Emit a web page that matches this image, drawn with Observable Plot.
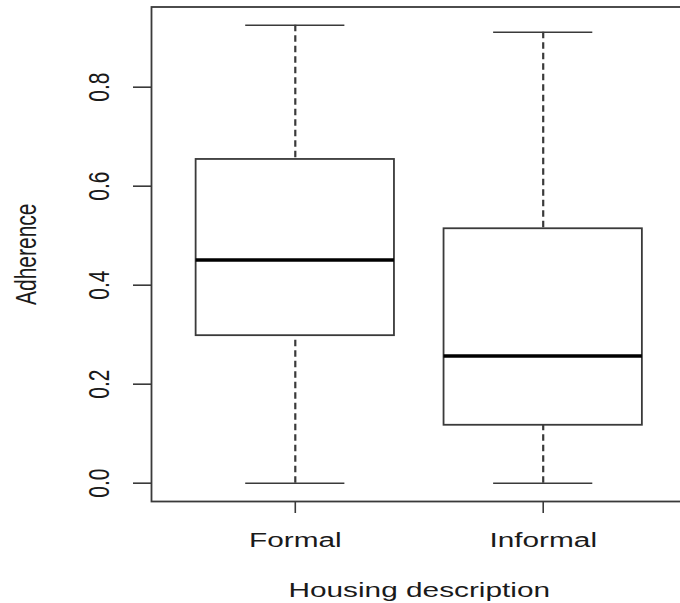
<!DOCTYPE html>
<html>
<head>
<meta charset="utf-8">
<script src="https://cdn.jsdelivr.net/npm/d3@7"></script>
<script src="https://cdn.jsdelivr.net/npm/@observablehq/plot@0.6"></script>
<style>
  html, body { margin: 0; padding: 0; background: #fff; overflow: hidden; }
  #chart svg { display: block; overflow: hidden; }
</style>
</head>
<body>
<div id="chart"></div>
<script>
// Adherence by housing description: five-number summaries per group
const categories = ["Formal", "Informal"];
const lowerWhisker = [0.0, 0.0];
const lowerQuartile = [0.298, 0.117];
const medians = [0.451, 0.257];
const upperQuartile = [0.654, 0.514];
const upperWhisker = [0.925, 0.911];
const yTicks = [0, 0.2, 0.4, 0.6, 0.8];
const xTitle = "Housing description";
const yTitle = "Adherence";

const boxes = categories.map((name, i) => ({
  name,
  pos: i + 1,
  lo: lowerWhisker[i],
  q1: lowerQuartile[i],
  med: medians[i],
  q3: upperQuartile[i],
  hi: upperWhisker[i]
}));

// Axis limits padded by 4% on each side, like base R graphics
const yMin = d3.min(lowerWhisker), yMax = d3.max(upperWhisker);
const yPad = 0.04 * (yMax - yMin);
const xLo = 0.5, xHi = categories.length + 0.5, xPad = 0.04 * (xHi - xLo);
const boxHalf = 0.4;   // boxwex 0.8
const capHalf = 0.2;   // staple half the box width

const ink = "#3a3a3a";
const textInk = "#1a1a1a";
const font = "'Liberation Sans', Arial, Helvetica, sans-serif";
const fs = 21;

const chart = Plot.plot({
  width: 680,
  height: 603,
  marginLeft: 151,
  marginRight: -6.5,
  marginTop: 6.5,
  marginBottom: 102,
  style: {fontFamily: font, fontSize: fs + "px", color: textInk, background: "#fff", overflow: "hidden"},
  x: {domain: [xLo - xPad, xHi + xPad]},
  y: {domain: [yMin - yPad, yMax + yPad]},
  marks: [
    Plot.frame({stroke: ink, strokeWidth: 1.8}),
    // dashed whiskers, drawn from the whisker end toward the box
    Plot.ruleX(boxes, {x: "pos", y1: "hi", y2: "q3", stroke: ink, strokeWidth: 2.2, strokeDasharray: "6.5,4"}),
    Plot.ruleX(boxes, {x: "pos", y1: "lo", y2: "q1", stroke: ink, strokeWidth: 2.2, strokeDasharray: "6.5,4"}),
    // staples
    Plot.ruleY(boxes, {y: "hi", x1: d => d.pos - capHalf, x2: d => d.pos + capHalf, stroke: ink, strokeWidth: 1.6}),
    Plot.ruleY(boxes, {y: "lo", x1: d => d.pos - capHalf, x2: d => d.pos + capHalf, stroke: ink, strokeWidth: 1.6}),
    // interquartile boxes
    Plot.rect(boxes, {
      x1: d => d.pos - boxHalf, x2: d => d.pos + boxHalf,
      y1: "q1", y2: "q3",
      fill: "white", stroke: ink, strokeWidth: 1.8
    }),
    // medians
    Plot.ruleY(boxes, {y: "med", x1: d => d.pos - boxHalf, x2: d => d.pos + boxHalf, stroke: "#000", strokeWidth: 3.6}),
    // axes
    Plot.axisY(yTicks, {
      anchor: "left",
      tickSize: 18,
      tickPadding: 24.7,
      tickRotate: -90,
      textAnchor: "middle",
      lineAnchor: "bottom",
      tickFormat: d => d.toFixed(1),
      fontSize: fs,
      stroke: ink,
      strokeWidth: 1.6,
      fill: textInk,
      label: null
    }),
    Plot.axisX([1, 2], {
      anchor: "bottom",
      tickSize: 12,
      tickPadding: 18.8,
      tickFormat: d => categories[d - 1],
      fontSize: fs,
      stroke: ink,
      strokeWidth: 1.6,
      fill: textInk,
      label: null
    }),
    // axis titles
    Plot.text([yTitle], {frameAnchor: "left", dx: -116, rotate: -90, textAnchor: "middle", lineAnchor: "bottom", fontSize: fs, fill: textInk}),
    Plot.text([xTitle], {frameAnchor: "bottom", dy: 95.7, textAnchor: "middle", lineAnchor: "bottom", fontSize: fs, fill: textInk})
  ]
});

// Widen the lettering horizontally about each text's anchor point
const S = 1.42;
const num = v => { const n = parseFloat(v); return v != null && /^[-+0-9.e]+$/i.test(v) && isFinite(n) ? n : 0; };
chart.querySelectorAll("text").forEach(t => {
  const list = t.transform.baseVal;
  const c = list.numberOfItems ? list.consolidate().matrix : null;
  const x0 = num(t.getAttribute("x")), y0 = num(t.getAttribute("y"));
  const ax = c ? c.a * x0 + (c.c ? c.c * y0 : 0) + c.e : x0;
  const old = t.getAttribute("transform") || "";
  t.setAttribute("transform", `translate(${ax},0) scale(${S},1) translate(${-ax},0) ${old}`);
});

document.getElementById("chart").append(chart);
</script>
</body>
</html>
